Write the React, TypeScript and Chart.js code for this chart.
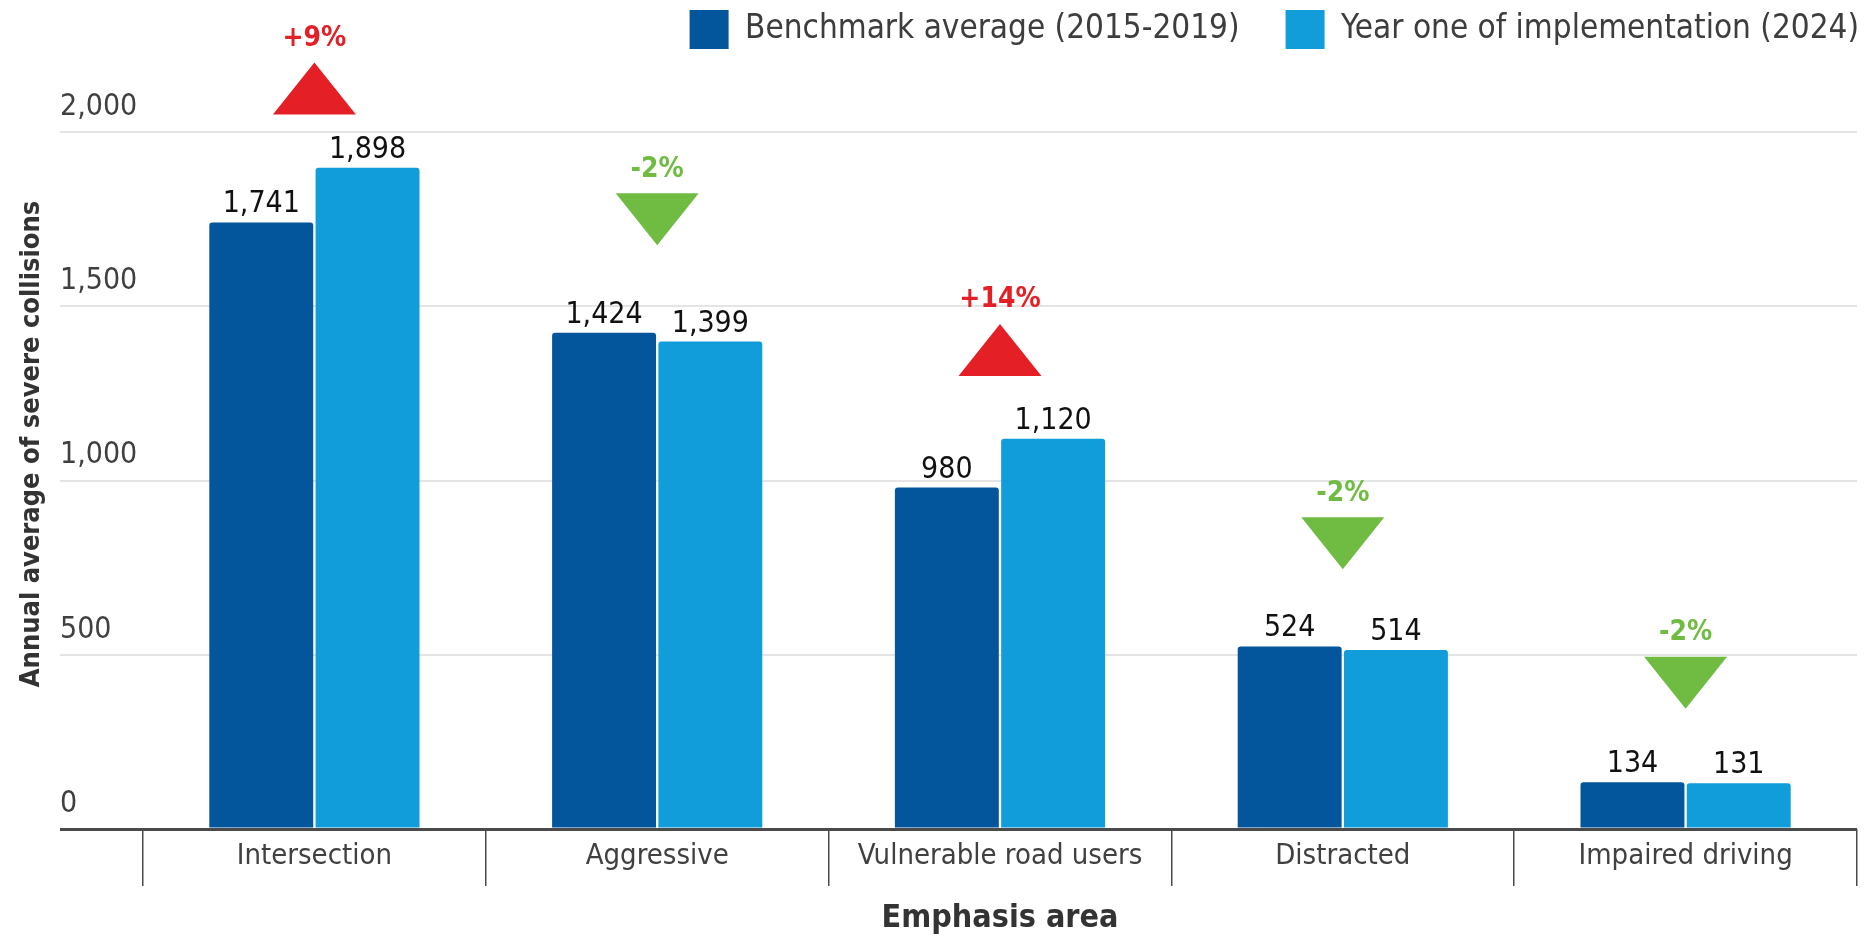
import React, { useEffect, useRef } from 'react';
import { Chart, registerables } from 'chart.js';

Chart.register(...registerables);

const FONT = "'DejaVu Sans Condensed', 'DejaVu Sans', sans-serif";

const categories = ['Intersection', 'Aggressive', 'Vulnerable road users', 'Distracted', 'Impaired driving'];
const seriesNames = ['Benchmark average (2015-2019)', 'Year one of implementation (2024)'];
const benchmarkValues = [1741, 1424, 980, 524, 134];
const yearOneValues = [1898, 1399, 1120, 514, 131];
const changeLabels = ['+9%', '-2%', '+14%', '-2%', '-2%'];
const markerValues = [2125, 1750, 1375, 820, 420];
const yTicks = [0, 500, 1000, 1500, 2000];
const yMax = 2210;

const DARK = '#03569c';
const LIGHT = '#119dd9';
const RED = '#e41f26';
const GREEN = '#70bc43';

const annotationPlugin = {
  id: 'annotations',
  afterDatasetsDraw(chart: any) {
    const { ctx } = chart;
    const x = chart.scales.x;
    const y = chart.scales.y;
    ctx.save();
    chart.data.datasets.forEach((ds: any, di: number) => {
      const meta = chart.getDatasetMeta(di);
      meta.data.forEach((bar: any, i: number) => {
        ctx.font = `30px ${FONT}`;
        ctx.fillStyle = '#111111';
        ctx.textAlign = 'center';
        ctx.textBaseline = 'alphabetic';
        ctx.fillText(Number(ds.data[i]).toLocaleString('en-US'), bar.x, bar.y - 10);
      });
    });
    changeLabels.forEach((label, i) => {
      const up = label.startsWith('+');
      const cx = x.getPixelForValue(i);
      const cy = y.getPixelForValue(markerValues[i]);
      const color = up ? RED : GREEN;
      const hw = 41.5;
      const hh = 26;
      ctx.beginPath();
      if (up) {
        ctx.moveTo(cx, cy - hh);
        ctx.lineTo(cx + hw, cy + hh);
        ctx.lineTo(cx - hw, cy + hh);
      } else {
        ctx.moveTo(cx - hw, cy - hh);
        ctx.lineTo(cx + hw, cy - hh);
        ctx.lineTo(cx, cy + hh);
      }
      ctx.closePath();
      ctx.fillStyle = color;
      ctx.fill();
      ctx.font = `bold 28px ${FONT}`;
      ctx.textAlign = 'center';
      ctx.textBaseline = 'middle';
      ctx.fillText(label, cx, cy - 50);
    });
    ctx.restore();
  },
};

export default function App() {
  const ref = useRef<HTMLCanvasElement>(null);
  useEffect(() => {
    if (!ref.current) return;
    const chart = new Chart(ref.current, {
      type: 'bar',
      data: {
        labels: categories,
        datasets: [
          {
            label: seriesNames[0],
            data: benchmarkValues,
            backgroundColor: DARK,
            borderWidth: 0,
            borderRadius: 3,
            borderSkipped: 'start',
            barPercentage: 0.978,
            categoryPercentage: 0.62,
          },
          {
            label: seriesNames[1],
            data: yearOneValues,
            backgroundColor: LIGHT,
            borderWidth: 0,
            borderRadius: 3,
            borderSkipped: 'start',
            barPercentage: 0.978,
            categoryPercentage: 0.62,
          },
        ],
      },
      options: {
        animation: false,
        responsive: true,
        maintainAspectRatio: false,
        devicePixelRatio: 1,
        layout: { padding: { top: -36, right: -40, bottom: 0, left: 0 } },
        plugins: {
          tooltip: { enabled: false },
          legend: {
            position: 'top',
            align: 'end',
            labels: {
              boxWidth: 39,
              boxHeight: 39,
              padding: 46,
              color: '#3d3d3d',
              font: { size: 33, family: FONT },
            },
          },
        },
        scales: {
          x: {
            afterFit: (s: any) => {
              s.height = 106;
            },
            border: { display: false },
            grid: {
              display: true,
              drawOnChartArea: false,
              drawTicks: true,
              tickLength: 57,
              color: '#4a4a4a',
              lineWidth: 1.5,
              offset: true,
            },
            ticks: {
              color: '#404040',
              padding: -44,
              autoSkip: false,
              maxRotation: 0,
              font: { size: 29, family: FONT, lineHeight: 1 },
            },
            title: {
              display: true,
              text: 'Emphasis area',
              color: '#333333',
              font: { size: 32, weight: 'bold', family: FONT, lineHeight: 1 },
              padding: { top: 0, bottom: 0 },
            },
          },
          y: {
            min: 0,
            max: yMax,
            afterBuildTicks: (s: any) => {
              s.ticks = yTicks.map((v) => ({ value: v }));
            },
            afterFit: (s: any) => {
              s.width = 143;
            },
            border: { display: false },
            grid: {
              color: (c: any) => (c.tick && c.tick.value === 0 ? '#4a4a4a' : '#e4e4e4'),
              lineWidth: (c: any) => (c.tick && c.tick.value === 0 ? 3 : 2),
              tickLength: 83,
              drawTicks: true,
            },
            ticks: {
              mirror: true,
              padding: -83,
              labelOffset: -25,
              color: '#404040',
              font: { size: 30, family: FONT },
              callback: (v: any) => Number(v).toLocaleString('en-US'),
            },
            title: {
              display: true,
              text: 'Annual average of severe collisions',
              color: '#333333',
              font: { size: 27, weight: 'bold', family: FONT, lineHeight: 1 },
              padding: { top: 18, bottom: 0 },
            },
          },
          yRight: {
            type: 'linear',
            position: 'right',
            display: true,
            afterFit: (s: any) => {
              s.width = 48;
            },
            border: { display: false },
            grid: { display: false, drawTicks: false },
            ticks: { display: false },
            title: { display: false },
          },
        },
      },
      plugins: [annotationPlugin],
    } as any);
    return () => chart.destroy();
  }, []);

  return (
    <div style={{ position: 'absolute', left: 0, top: 0, width: 1865, height: 935, background: '#ffffff' }}>
      <canvas ref={ref} style={{ display: 'block' }} />
    </div>
  );
}
